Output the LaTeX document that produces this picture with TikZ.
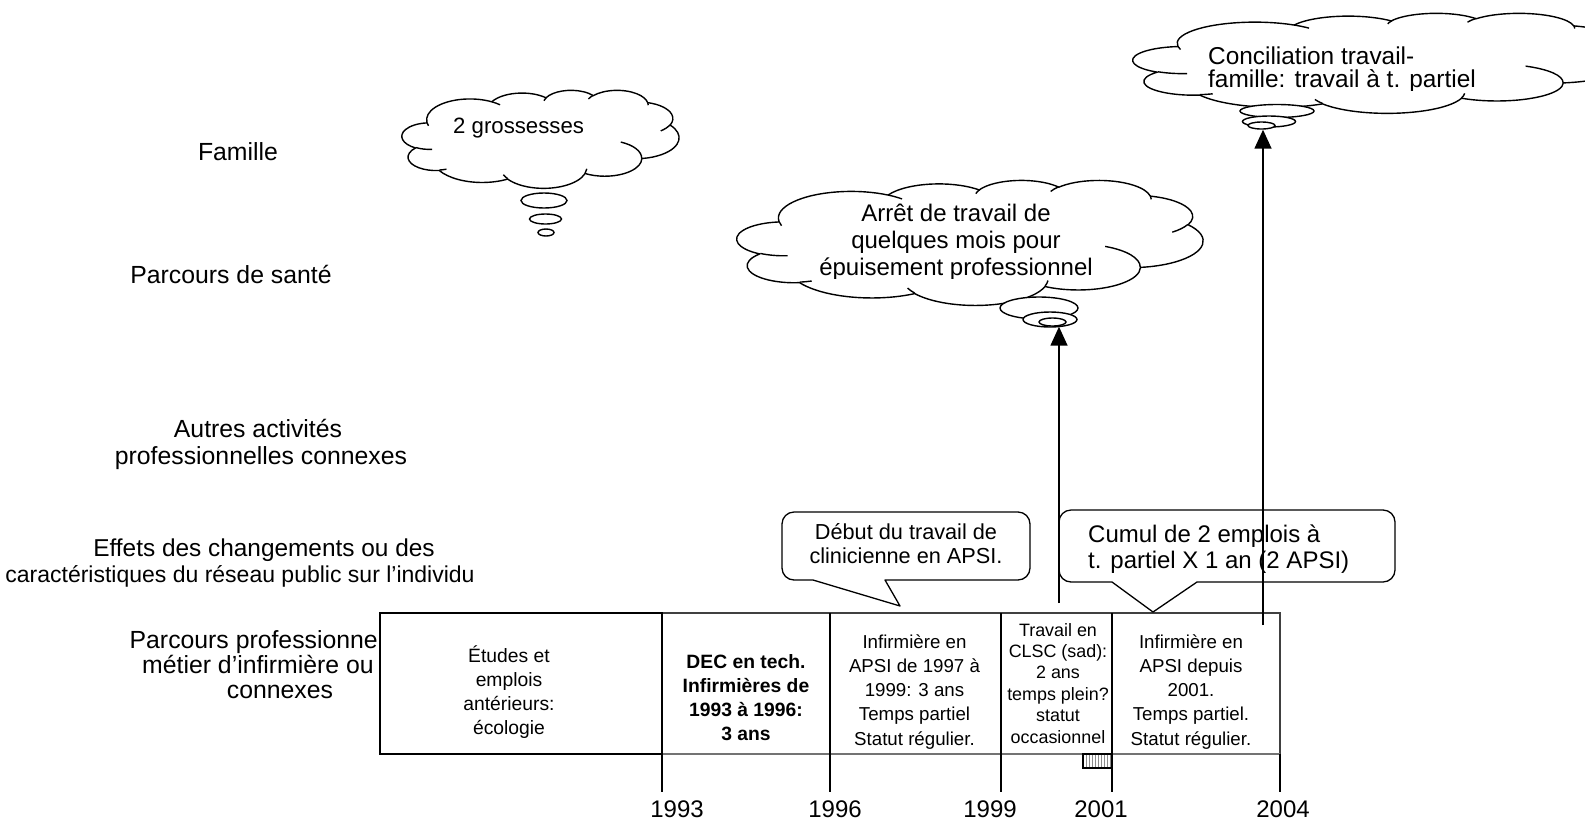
\documentclass[tikz,border=0pt]{standalone}
\usepackage{fontspec}
\setmainfont{Liberation Sans}
\usetikzlibrary{shapes.geometric,arrows.meta,patterns}

% one puff of a cloud outline: x radius, y radius, start angle, sweep
% (angles are taken along the ray from the centre and turned into
% parametric angles by vis)
\newcommand\puff[4]{arc[start angle={vis(#3,#1,#2)},end angle={vis(#3+#4,#1,#2)},x radius=#1pt,y radius=#2pt]}

% cloud drawn in a 432 x 432 frame, then stretched: name, left, top, width, height
\newcommand\cloudshape[5]{%
  \begin{scope}[shift={(#2,#3)},xscale=#4/432,yscale=#5/432]
    \draw[cloudline,fill=white] (39.00,143.70)
      \puff{67.53}{91.90}{-190.4875}{123.7805}
      \puff{53.33}{72.67}{-144.1024}{89.9452}
      \puff{43.65}{59.45}{-145.8079}{99.7230}
      \puff{48.57}{65.95}{-130.9861}{117.2417}
      \puff{53.33}{72.73}{-78.7089}{109.0269}
      \puff{67.75}{92.20}{-46.2673}{130.2690}
      \puff{57.85}{78.67}{0.6250}{114.0333}
      \puff{67.52}{92.15}{22.4516}{115.1726}
      \puff{77.20}{105.43}{66.2426}{75.7110}
      \puff{43.60}{59.18}{-274.9421}{146.7356}
      \puff{43.45}{59.45}{-246.8285}{152.5189}
      -- cycle;
    \draw[cloudline]
      (46.93,261.77) \puff{43.45}{59.45}{86.7420}{26.4295}
      (69.28,348.99) \puff{43.60}{59.18}{73.6105}{11.4475}
      (164.78,390.90) \puff{67.52}{92.15}{137.6242}{14.0811}
      (288.27,347.51) \puff{67.52}{92.15}{6.4533}{15.9984}
      (341.29,229.54) \puff{57.85}{78.67}{-70.2924}{70.9174}
      (417.98,153.54) \puff{53.33}{72.73}{30.3180}{27.7515}
      (383.24,54.26) \puff{48.57}{65.95}{-13.7443}{14.8589}
      (290.78,39.52) \puff{48.57}{65.95}{-149.1815}{18.1954}
      (221.41,47.20) \puff{43.65}{59.45}{-163.4943}{17.6864}
      (140.00,51.92) \puff{67.53}{91.90}{-66.7070}{12.3194}
      (41.27,157.89) \puff{67.53}{91.90}{157.6544}{11.8582};
    \coordinate (#1) at (216,216);
  \end{scope}}

\begin{document}
\begin{tikzpicture}[x=1pt,y=1pt,
  declare function={wrp(\d)=\d-360*round(\d/360);
                    vis(\a,\w,\h)=\a+wrp(atan2(\w*sin(\a),\h*cos(\a))-\a);},
  cloudline/.style={line width=1.4pt,line join=round},
  bubble/.style={ellipse,draw,line width=1.4pt,fill=white,inner sep=0pt},
  lbl/.style={font=\fontsize{24.8}{26}\selectfont,inner sep=0pt,anchor=base},
  celltxt/.style={font=\fontsize{18.7}{24}\selectfont,inner sep=0pt,anchor=base},
  bigcell/.style={font=\fontsize{19.3}{24}\selectfont,inner sep=0pt,anchor=base},
  smallcell/.style={font=\fontsize{17.9}{21}\selectfont,inner sep=0pt,anchor=base},
  cloudtxt/.style={font=\fontsize{24}{26}\selectfont,inner sep=0pt,anchor=base},
  calltxt/.style={font=\fontsize{21.7}{24}\selectfont,inner sep=0pt,anchor=base},
  yeartxt/.style={font=\fontsize{24}{26}\selectfont,inner sep=0pt,anchor=base},
  callout/.style={line width=1.3pt,line join=round},
  tick/.style={line width=1.5pt},
  grid/.style={line width=1.1pt},
  uparrow/.style={line width=1.5pt,-{Triangle[length=19pt,width=17pt]}},
]
\begin{scope}[yscale=-1]
\useasboundingbox (0,0) rectangle (1585,820);

% row headings
\node[lbl] (famille) at (238,160) {Famille};
\node[lbl] (sante) at (231,283) {Parcours de santé};
\node[lbl] (autres1) at (258,437) {Autres activités};
\node[lbl] (autres2) at (261,464) {professionnelles connexes};
\node[lbl,font=\fontsize{24.4}{26}\selectfont] (effets1) at (264,556) {Effets des changements ou des};
\node[lbl,font=\fontsize{23}{26}\selectfont] (effets2) at (240,582) {caractéristiques du réseau public sur l’individu};
\node[lbl,anchor=base east] (pro1) at (378,648) {Parcours professionne};
\node[lbl] (pro2) at (258,673) {métier d’infirmière ou};
\node[lbl] (pro3) at (280,698) {connexes};

% timeline cells
\coordinate (t93) at (662,613);
\coordinate (t96) at (830,613);
\coordinate (t99) at (1001,613);
\coordinate (t01) at (1112,613);
\coordinate (t04) at (1280,613);
\draw[grid,draw=black!75] (t93) -- (t04) -- (1280,754);
\draw[line width=1.8pt,draw=black!55] (662,754) -- (1280,754);
\foreach \c in {t96,t99,t01} \draw[grid] (\c) -- ++(0,141);
\draw[line width=1.8pt] (380,613) rectangle (662,754);

% year ticks
\foreach \c in {t93,t96,t99,t01,t04} \draw[tick] ([yshift=141pt]\c) -- ([yshift=179pt]\c);
\draw[line width=1.4pt,pattern=vertical lines,pattern color=black!45] (1083,754) rectangle (1112,768);

\node[yeartxt] (y93) at (677,817) {1993};
\node[yeartxt] (y96) at (835,817) {1996};
\node[yeartxt] (y99) at (990,817) {1999};
\node[yeartxt] (y01) at (1101,817) {2001};
\node[yeartxt] (y04) at (1283,817) {2004};

% cell texts
\foreach \t [count=\i] in {{Études et},{emplois},{antérieurs:},{écologie}}
  \node[bigcell] (etu\i) at (509,{662+(\i-1)*24.2}) {\t};
\foreach \t [count=\i] in {{DEC en tech.},{Infirmières de},{1993 à 1996:},{3 ans}}
  \node[bigcell,font=\fontsize{19.3}{24}\selectfont\bfseries] (dec\i) at (746,{668+(\i-1)*24.3}) {\t};
\foreach \t [count=\i] in {{Infirmière en},{APSI de 1997 à},{1999: 3 ans},{Temps partiel},{Statut régulier.}}
  \node[celltxt] (apsi\i) at (914.5,{648+(\i-1)*24.3}) {\t};
\foreach \t [count=\i] in {{Travail en},{CLSC (sad):},{2 ans},{temps plein?},{statut},{occasionnel}}
  \node[smallcell] (clsc\i) at (1058,{636+(\i-1)*21.4}) {\t};
\foreach \t [count=\i] in {{Infirmière en},{APSI depuis},{2001.},{Temps partiel.},{Statut régulier.}}
  \node[celltxt] (dep\i) at (1191,{648+(\i-1)*24.3}) {\t};

% speech callouts
\draw[callout] (885,580) -- (1018,580) arc[start angle=90,end angle=0,radius=12pt]
  -- (1030,524) arc[start angle=0,end angle=-90,radius=12pt]
  -- (794,512) arc[start angle=-90,end angle=-180,radius=12pt]
  -- (782,568) arc[start angle=180,end angle=90,radius=12pt]
  -- (813,580) -- (900,606) -- cycle;
\node[calltxt] (deb1) at (906,539) {Début du travail de};
\node[calltxt] (deb2) at (906,563) {clinicienne en APSI.};

\draw[callout] (1197,582) -- (1383,582) arc[start angle=90,end angle=0,radius=12pt]
  -- (1395,522) arc[start angle=0,end angle=-90,radius=12pt]
  -- (1071,510) arc[start angle=-90,end angle=-180,radius=12pt]
  -- (1059,570) arc[start angle=180,end angle=90,radius=12pt]
  -- (1112,582) -- (1153,612) -- cycle;
\node[cloudtxt,anchor=base west] (cum1) at (1088,542) {Cumul de 2 emplois à};
\node[cloudtxt,anchor=base west] (cum2) at (1088,568) {t. partiel X 1 an (2 APSI)};

% thought clouds
\cloudshape{c1}{402}{90}{277}{98}
\node[bubble,minimum width=46pt,minimum height=15pt] (c1a) at (544,200.5) {};
\node[bubble,minimum width=32pt,minimum height=10pt] (c1b) at (545.5,219) {};
\node[bubble,minimum width=16pt,minimum height=7pt] (c1c) at (546,232.5) {};
\node[cloudtxt,font=\fontsize{22.2}{26}\selectfont,anchor=base west] (g1) at (453,133) {2 grossesses};

\cloudshape{c2}{737}{180}{466}{125}
\node[bubble,minimum width=78pt,minimum height=22pt] (c2a) at (1039,308) {};
\node[bubble,minimum width=54pt,minimum height=15pt] (c2b) at (1050,319.5) {};
\node[bubble,minimum width=27pt,minimum height=8pt] (c2c) at (1052.5,322) {};
\begin{scope}
  \clip (780,190) rectangle (1130,278);
  \node[cloudtxt] (ar1) at (956,221) {Arrêt de travail de};
  \node[cloudtxt] (ar2) at (956,248) {quelques mois pour};
  \node[cloudtxt] (ar3) at (956,275) {épuisement professionnel};
\end{scope}

\cloudshape{c3}{1133}{13}{497}{100}
\node[bubble,minimum width=74pt,minimum height=13pt] (c3a) at (1277,111) {};
\node[bubble,minimum width=53pt,minimum height=11pt] (c3b) at (1269,121.5) {};
\node[bubble,minimum width=27pt,minimum height=7pt] (c3c) at (1261.5,125.5) {};
\begin{scope}
  \clip (1180,20) rectangle (1520,90);
  \node[cloudtxt,font=\fontsize{24.4}{26}\selectfont,anchor=base west] (con1) at (1208,64) {Conciliation travail-};
  \node[cloudtxt,font=\fontsize{24.4}{26}\selectfont,anchor=base west] (con2) at (1208,87) {famille: travail à t. partiel};
\end{scope}

% arrows from the timeline to the clouds
\coordinate (a1s) at (1059,603);
\coordinate (a2s) at (1263,625);
\draw[uparrow] (a1s) -- (a1s |- c2c.south);
\draw[uparrow] (a2s) -- (a2s |- c3c.south);
\end{scope}
\end{tikzpicture}
\end{document}
